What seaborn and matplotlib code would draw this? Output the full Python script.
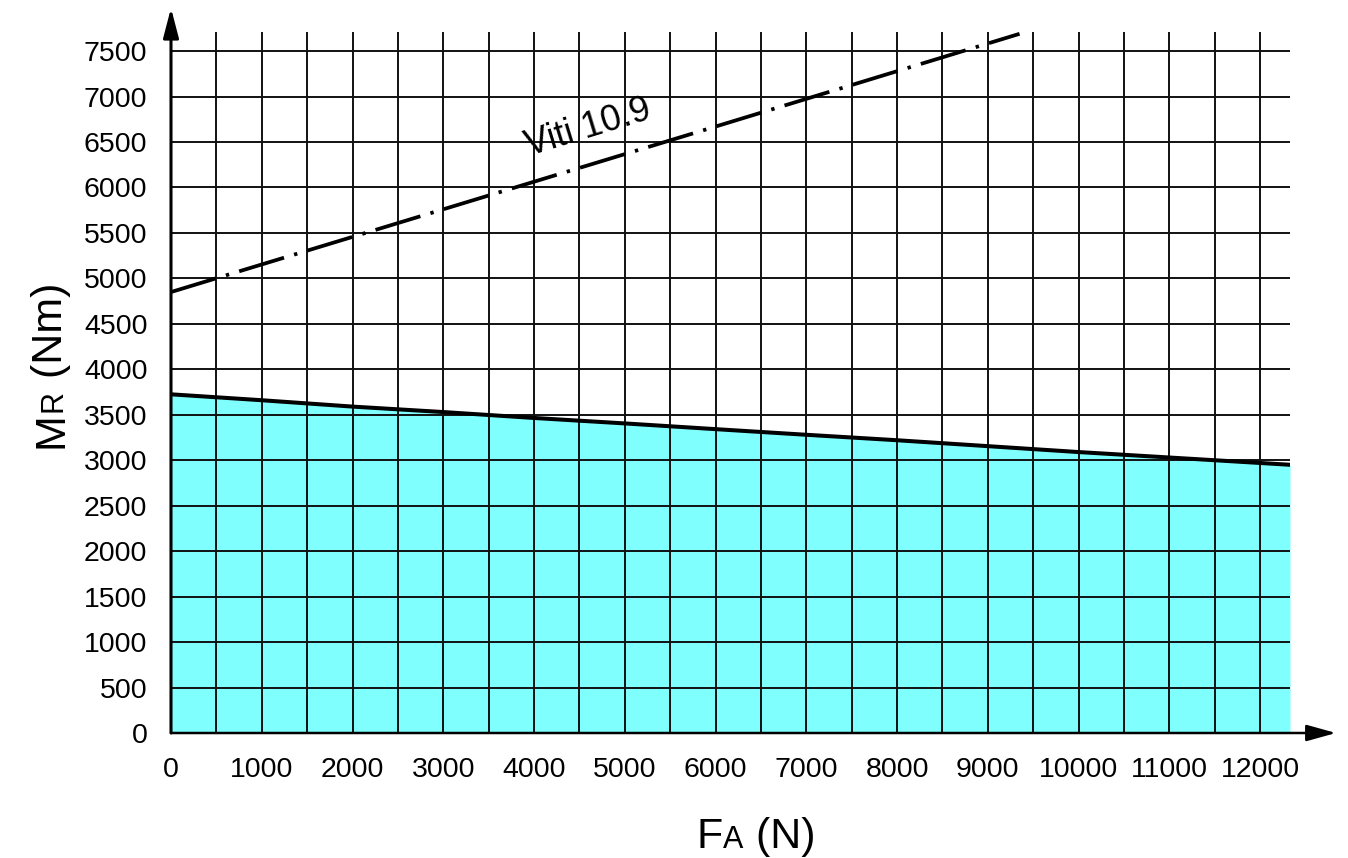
import numpy as np
import matplotlib
matplotlib.use("Agg")
import matplotlib.pyplot as plt
import matplotlib.font_manager as fm
import seaborn as sns

# data
fa_limit = [0, 1000, 2000, 3000, 4000, 5000, 6000, 7000, 8000, 9000, 10000, 11000, 12000, 12330]
mr_limit = [3725, 3660, 3590, 3530, 3465, 3405, 3342, 3280, 3220, 3155, 3090, 3030, 2970, 2950]

fa_viti = [0, 3000, 6000, 9350]
mr_viti = [4850, 5760, 6670, 7690]
viti_label = "Viti 10.9"

x_major = list(range(0, 12001, 1000))
x_minor = list(range(500, 12001, 1000))
y_ticks = list(range(0, 7501, 500))

X_MAX = 12330
Y_MAX = 7710

sns.set_theme(style="white")
names = {f.name for f in fm.fontManager.ttflist}
if "Liberation Sans Narrow" in names:
    tick_family, tick_size = "Liberation Sans Narrow", 23
else:
    tick_family, tick_size = "Liberation Sans", 20.5
plt.rcParams["font.family"] = ["Liberation Sans", "DejaVu Sans"]
plt.rcParams["text.color"] = "black"
plt.rcParams["axes.labelcolor"] = "black"

fig = plt.figure(figsize=(13.48, 8.58), dpi=100)
ax = fig.add_axes([171 / 1348, 125 / 858, 1119 / 1348, 701 / 858])

# filled area under the limit curve
ax.fill_between(fa_limit, mr_limit, color="#80FFFF", lw=0, zorder=1)
sns.lineplot(x=fa_limit, y=mr_limit, ax=ax, color="black", lw=2.9, zorder=3)
sns.lineplot(x=fa_viti, y=mr_viti, ax=ax, color="black", lw=2.7, zorder=3,
             linestyle=(0, (12.5, 2.8, 0.9, 2.8)))

ax.text(4600, 6650, viti_label, fontsize=26, rotation=17,
        ha="center", va="center", zorder=4, color="black")

ax.set_xlim(0, X_MAX)
ax.set_ylim(0, Y_MAX)
ax.set_xticks(x_major)
ax.set_xticks(x_minor, minor=True)
ax.set_yticks(y_ticks)
ax.set_xticklabels([str(v) for v in x_major], family=tick_family, fontsize=tick_size)
ax.set_yticklabels([str(v) for v in y_ticks], family=tick_family, fontsize=tick_size)
ax.tick_params(axis="both", which="both", length=0, colors="black", pad=17)

ax.set_axisbelow("line")
ax.grid(which="both", color="#111111", lw=1.4)
ax.grid(which="minor", axis="y", visible=False)
for s in ax.spines.values():
    s.set_visible(False)

# axes with arrow heads
ax.annotate("", xy=(0, 1.0342), xytext=(0, 0), xycoords="axes fraction",
            arrowprops=dict(arrowstyle="-|>,head_length=1.8,head_width=0.47",
                            mutation_scale=10, lw=2.2, color="black",
                            shrinkA=0, shrinkB=0), zorder=5)
ax.annotate("", xy=(1.0411, 0), xytext=(0, 0), xycoords="axes fraction",
            arrowprops=dict(arrowstyle="-|>,head_length=1.8,head_width=0.5",
                            mutation_scale=10, lw=1.8, color="black",
                            shrinkA=0, shrinkB=0), zorder=5)


def mixed_label(parts, x0, y0, vertical):
    # draws text pieces of different sizes on one baseline (figure pixels)
    renderer = fig.canvas.get_renderer()
    pos = x0 if not vertical else y0
    for txt, size in parts:
        if vertical:
            t = fig.text(x0 / 1348, pos / 858, txt, fontsize=size, rotation=90,
                         rotation_mode="anchor", ha="left", va="baseline", color="black")
            pos += t.get_window_extent(renderer).height
        else:
            t = fig.text(pos / 1348, y0 / 858, txt, fontsize=size,
                         ha="left", va="baseline", color="black")
            pos += t.get_window_extent(renderer).width


mixed_label([("M", 31), ("R", 22), (" (Nm)", 31)], 62, 858 - 448, True)
mixed_label([("F", 31), ("A", 22), (" (N)", 31)], 697, 858 - 848, False)

fig.savefig("out.png", dpi=100)
